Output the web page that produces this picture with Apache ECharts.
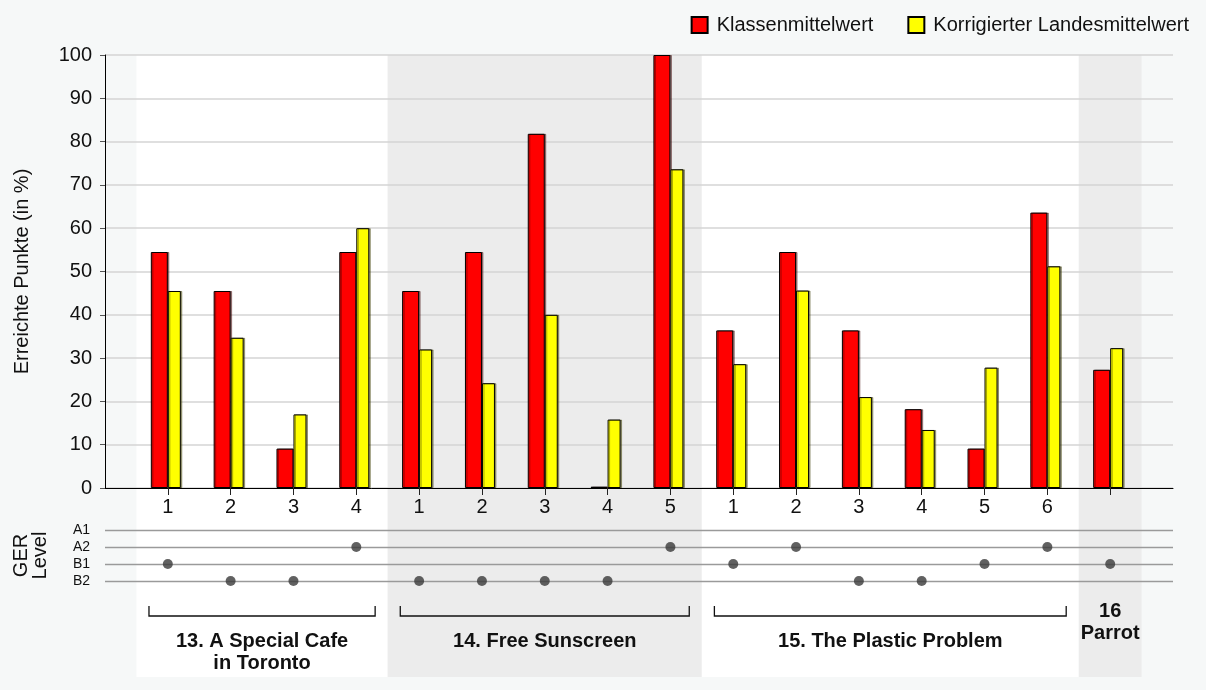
<!DOCTYPE html>
<html>
<head>
<meta charset="utf-8">
<script src="https://cdn.jsdelivr.net/npm/echarts@6/dist/echarts.min.js"></script>
<style>
html,body{margin:0;padding:0;background:#f6f8f8;}
#chart{width:1206px;height:690px;}
</style>
</head>
<body>
<div id="chart"></div>
<script>
const groupNames = ['13. A Special Cafe\nin Toronto', '14. Free Sunscreen', '15. The Plastic Problem', '16\nParrot'];
const groupSizes = [4, 5, 6, 1];
const taskLabels = ['1','2','3','4', '1','2','3','4','5', '1','2','3','4','5','6', ''];
const klassenmittelwert = [54.5, 45.5, 9.1, 54.5, 45.5, 54.5, 81.8, 0.3, 100, 36.4, 54.5, 36.4, 18.2, 9.1, 63.6, 27.3];
const landesmittelwert = [45.5, 34.7, 17.0, 60.0, 32.0, 24.2, 40.0, 15.8, 73.6, 28.6, 45.6, 21.0, 13.4, 27.8, 51.2, 32.3];
const gerLevels = ['B1','B2','B2','A2', 'B2','B2','B2','B2','A2', 'B1','A2','B2','B2','B1','A2', 'B1'];
const levelScale = ['B2', 'B1', 'A2', 'A1'];
const yTicks = { min: 0, max: 100, interval: 10 };

const FONT = "'Liberation Sans', Arial, Helvetica, sans-serif";
const n = taskLabels.length;
const idx = taskLabels.map((_, i) => i);

const groupData = [];
let s = 0;
groupSizes.forEach((c, g) => { groupData.push([s, c, g]); s += c; });

const chart = echarts.init(document.getElementById('chart'));

const xCommon = { type: 'value', min: -1, max: n };

chart.setOption({
  backgroundColor: '#f6f8f8',
  animation: false,
  textStyle: { fontFamily: FONT },
  legend: {
    top: 10, right: 12,
    itemWidth: 16, itemHeight: 16, itemGap: 34,
    icon: 'rect',
    textStyle: { fontSize: 20, color: '#111', fontFamily: FONT, padding: [0, 0, 0, 4] },
    data: ['Klassenmittelwert', 'Korrigierter Landesmittelwert']
  },
  grid: [
    { left: 105, right: 33, top: 55, bottom: 202 },
    { left: 105, right: 33, top: 530, height: 51 },
    { left: 105, right: 33, top: 55, bottom: 13 }
  ],
  xAxis: [
    Object.assign({}, xCommon, {
      gridIndex: 0, z: 1,
      axisLine: { show: true, onZero: false, lineStyle: { color: '#000', width: 1 } },
      axisTick: { show: true, customValues: idx, length: 7, lineStyle: { color: '#222' } },
      axisLabel: { show: true, customValues: idx, formatter: v => taskLabels[v] ?? '', fontSize: 20, color: '#111', margin: 9, fontFamily: FONT },
      splitLine: { show: false }
    }),
    Object.assign({}, xCommon, { gridIndex: 1, show: false }),
    Object.assign({}, xCommon, { gridIndex: 2, show: false })
  ],
  yAxis: [
    {
      type: 'value', gridIndex: 0, z: 1,
      min: yTicks.min, max: yTicks.max, interval: yTicks.interval,
      name: 'Erreichte Punkte (in %)', nameLocation: 'middle', nameGap: 73, nameRotate: 90,
      nameTextStyle: { fontSize: 20, color: '#111', fontFamily: FONT },
      axisLine: { show: true, onZero: false, lineStyle: { color: '#000', width: 1 } },
      axisTick: { show: true, length: 5, lineStyle: { color: '#555' } },
      axisLabel: { fontSize: 20, color: '#111', margin: 13, fontFamily: FONT },
      splitLine: { show: true, lineStyle: { color: '#d4d4d4', width: 1.5 } }
    },
    {
      type: 'category', gridIndex: 1, z: 1, data: levelScale, boundaryGap: false,
      name: 'GER\nLevel', nameLocation: 'middle', nameGap: 55, nameRotate: 90,
      nameTextStyle: { fontSize: 20, color: '#111', lineHeight: 19, fontFamily: FONT },
      axisLine: { show: false, onZero: false }, axisTick: { show: false },
      axisLabel: { interval: 0, fontSize: 14, color: '#111', margin: 15, fontFamily: FONT },
      splitLine: { show: true, interval: 0, lineStyle: { color: '#9a9a9a', width: 1.3 } }
    },
    { type: 'value', gridIndex: 2, min: 0, max: 1, show: false }
  ],
  series: [
    {
      type: 'custom', xAxisIndex: 2, yAxisIndex: 2, z: 0, silent: true,
      data: groupData,
      renderItem: function (params, api) {
        const start = api.value(0), count = api.value(1), g = api.value(2);
        const cs = params.coordSys;
        const x0 = api.coord([start - 0.5, 0])[0];
        const x1 = api.coord([start + count - 0.5, 0])[0];
        const w = api.coord([1, 0])[0] - api.coord([0, 0])[0];
        const bottom = cs.y + cs.height;
        const bracketY = bottom - 61;
        const children = [{
          type: 'rect',
          shape: { x: x0, y: cs.y, width: x1 - x0, height: cs.height },
          style: { fill: g % 2 === 1 ? '#ececec' : '#ffffff' }
        }];
        let textTop;
        if (count > 1) {
          const a = x0 + 0.2 * w, b = x1 - 0.2 * w;
          children.push({
            type: 'polyline',
            shape: { points: [[a, bracketY - 10], [a, bracketY], [b, bracketY], [b, bracketY - 10]] },
            style: { stroke: '#111', lineWidth: 1.3, fill: null }
          });
          textTop = bracketY + 14;
        } else {
          textTop = bracketY - 16;
        }
        children.push({
          type: 'text',
          style: {
            x: (x0 + x1) / 2, y: textTop,
            text: groupNames[g],
            align: 'center', verticalAlign: 'top',
            font: 'bold 20px ' + FONT, lineHeight: 22.5,
            fill: '#111'
          }
        });
        return { type: 'group', children: children };
      }
    },
    {
      name: 'Klassenmittelwert', type: 'bar', xAxisIndex: 0, yAxisIndex: 0, z: 2,
      barWidth: 17, barGap: '0%',
      itemStyle: { color: '#ff0000', borderColor: '#000', borderWidth: 1, shadowColor: 'rgba(60,0,0,0.45)', shadowOffsetX: 1.5, shadowBlur: 0 },
      data: klassenmittelwert.map((v, i) => [i, v])
    },
    {
      name: 'Korrigierter Landesmittelwert', type: 'bar', xAxisIndex: 0, yAxisIndex: 0, z: 2,
      barWidth: 13, barGap: '0%',
      itemStyle: { color: '#ffff00', borderColor: '#000', borderWidth: 1, shadowColor: 'rgba(60,60,0,0.45)', shadowOffsetX: 1.5, shadowBlur: 0 },
      data: landesmittelwert.map((v, i) => [i, v])
    },
    {
      name: 'spacer', type: 'bar', xAxisIndex: 0, yAxisIndex: 0, barWidth: 4, barGap: '0%',
      silent: true, itemStyle: { color: 'rgba(0,0,0,0)' }, data: []
    },
    {
      type: 'scatter', xAxisIndex: 1, yAxisIndex: 1, z: 3,
      symbolSize: 10, itemStyle: { color: '#3a3a3a' },
      data: gerLevels.map((l, i) => [i, l])
    }
  ]
});
</script>
</body>
</html>
